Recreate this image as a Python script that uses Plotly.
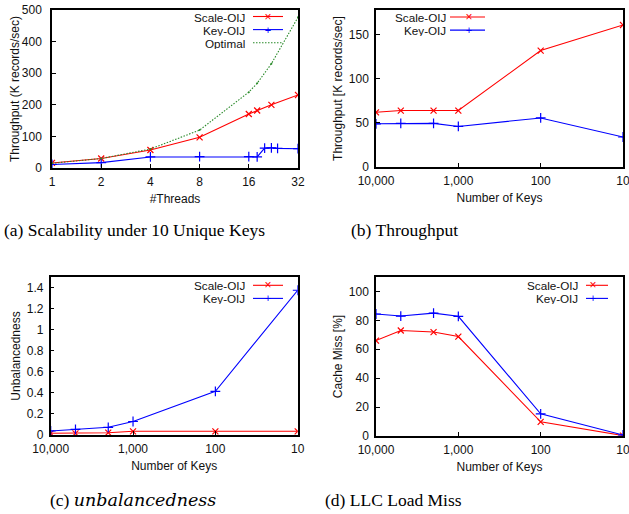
import math
import plotly.graph_objects as go

# ---------------- data ----------------
threads_scale = [1, 2, 4, 8, 16, 18, 22, 32]
scale_thr_a = [16, 30, 57, 97, 171, 182, 200, 231]
threads_key = [1, 2, 4, 8, 16, 18, 20, 22, 24, 32]
key_thr_a = [11, 17, 35, 36, 36, 35, 63, 64, 62, 61]
threads_opt = [1, 2, 4, 8, 16, 18, 22, 32]
optimal_a = [15, 30, 60, 120, 240, 268, 330, 477]

keys = [10000, 5000, 2000, 1000, 100, 10]
scale_thr_b = [62, 64, 64, 64, 132, 161]
key_thr_b = [49, 49.5, 49.5, 46, 55.6, 34]
scale_unb = [0.016, 0.016, 0.022, 0.035, 0.035, 0.035]
key_unb = [0.038, 0.054, 0.073, 0.128, 0.415, 1.374]
scale_miss = [66, 73, 71.9, 68.8, 9.8, 0.3]
key_miss = [84.4, 83, 85, 82.8, 15.3, 0.7]

thread_ticks = [1, 2, 4, 8, 16, 32]
key_ticks = [10000, 1000, 100, 10]
key_tick_text = ["10,000", "1,000", "100", "10"]

captions = ["(a) Scalability under 10 Unique Keys", "(b) Throughput",
            "(c) <span style=\"font-family:'DejaVu Serif'\"><i>unbalancedness</i></span>",
            "(d) LLC Load Miss"]

RED = "#ff0000"
BLUE = "#0000ff"
GREEN = "#2a8a2a"
W, H = 629, 514
SANS = "Liberation Sans, Arial, sans-serif"
SERIF = "Liberation Serif, Times New Roman, serif"


def px(x):
    return x / W


def py(y):
    return 1 - y / H


fig = go.Figure()


def scale_trace(x, y, xa, ya):
    return go.Scatter(x=x, y=y, xaxis=xa, yaxis=ya, mode="lines+markers", name="Scale-OIJ",
                      line=dict(color=RED, width=1.1),
                      marker=dict(symbol="x-thin-open", size=6, color=RED, line=dict(color=RED, width=1.2)),
                      showlegend=False)


def key_trace(x, y, xa, ya):
    return go.Scatter(x=x, y=y, xaxis=xa, yaxis=ya, mode="lines+markers", name="Key-OIJ",
                      line=dict(color=BLUE, width=1.1),
                      marker=dict(symbol="cross-thin-open", size=7, color=BLUE, line=dict(color=BLUE, width=1.2)),
                      showlegend=False)


# (a)
fig.add_trace(scale_trace(threads_scale, scale_thr_a, "x", "y"))
fig.add_trace(key_trace(threads_key, key_thr_a, "x", "y"))
fig.add_trace(go.Scatter(x=threads_opt, y=optimal_a, xaxis="x", yaxis="y", mode="lines+markers",
                         name="Optimal", line=dict(color=GREEN, width=1.1, dash="1.5px,1.5px"),
                         marker=dict(symbol="circle", size=2, color=GREEN), showlegend=False))
# (b)
fig.add_trace(scale_trace(keys, scale_thr_b, "x2", "y2"))
fig.add_trace(key_trace(keys, key_thr_b, "x2", "y2"))
# (c)
fig.add_trace(scale_trace(keys, scale_unb, "x3", "y3"))
fig.add_trace(key_trace(keys, key_unb, "x3", "y3"))
# (d)
fig.add_trace(scale_trace(keys, scale_miss, "x4", "y4"))
fig.add_trace(key_trace(keys, key_miss, "x4", "y4"))

tickfont = dict(family=SANS, size=12, color="#111")
titlefont = dict(family=SANS, size=12, color="#111")


def xax(domain, anchor, title, **kw):
    d = dict(domain=domain, anchor=anchor, type="log", showgrid=False, zeroline=False,
             showline=True, linecolor="black", linewidth=1.5, mirror=True, automargin=False,
             ticks="inside", ticklen=4, tickcolor="black", tickfont=tickfont,
             ticklabeloverflow="allow",
             title=dict(text=title, font=titlefont, standoff=6), ticklabelstandoff=2)
    d.update(kw)
    return d


def yax(domain, anchor, title, rng, dtick, lstand, tstand):
    return dict(domain=domain, anchor=anchor, range=rng, dtick=dtick, tick0=0, showgrid=False,
                zeroline=False, showline=True, linecolor="black", linewidth=1.5, mirror=True,
                automargin=False, ticks="inside", ticklen=4, tickcolor="black", tickfont=tickfont,
                title=dict(text=title, font=titlefont, standoff=tstand), ticklabelstandoff=lstand)


xa_dom_l = [px(52), px(298)]
xa_dom_r = [px(376), px(623)]

fig.update_layout(
    width=W, height=H, margin=dict(l=0, r=0, t=0, b=0, autoexpand=False),
    paper_bgcolor="white", plot_bgcolor="white", showlegend=False,
    xaxis=xax(xa_dom_l, "y", "#Threads", range=[0, math.log10(32)], tickvals=thread_ticks,
              ticktext=[str(t) for t in thread_ticks]),
    yaxis=yax([py(168), py(10)], "x", "Throughput (K records/sec)", [0, 500], 100, 6, 0),
    xaxis2=xax(xa_dom_r, "y2", "Number of Keys", range=[4, 1], tickvals=key_ticks, ticktext=key_tick_text),
    yaxis2=yax([py(167), py(10)], "x2", "Throughput [K records/sec]", [0, 178], 50, 3, 4),
    xaxis3=xax([px(50.7), px(297.7)], "y3", "Number of Keys", range=[4, 1], tickvals=key_ticks,
               ticktext=key_tick_text),
    yaxis3=yax([py(435), py(277)], "x3", "Unbalancedness", [0, 1.5], 0.2, 3, 4),
    xaxis4=xax(xa_dom_r, "y4", "Number of Keys", range=[4, 1], tickvals=key_ticks, ticktext=key_tick_text),
    yaxis4=yax([py(436), py(277)], "x4", "Cache Miss [%]", [0, 110], 20, 3, 4),
)

# custom gnuplot-style keys (text left, sample right)
legend_specs = [
    # text right edge, line x0, x1, marker x, rows[(y, name, color, glyph, dash)]
    (246, 253, 283, 268, [(16.5, "Scale-OIJ", RED, "×", "solid"), (29.6, "Key-OIJ", BLUE, "+", "solid"),
                          (42.7, "Optimal", GREEN, "", "1.5px,1.5px")]),
    (446.7, 450, 485, 469, [(17.0, "Scale-OIJ", RED, "×", "solid"), (30.1, "Key-OIJ", BLUE, "+", "solid")]),
    (245.7, 253, 283, 268, [(285.3, "Scale-OIJ", RED, "×", "solid"), (298.4, "Key-OIJ", BLUE, "+", "solid")]),
    (579, 586, 608, 593, [(285.3, "Scale-OIJ", RED, "×", "solid"), (298.4, "Key-OIJ", BLUE, "+", "solid")]),
]
for tx, lx0, lx1, mx, rows in legend_specs:
    for yy, name, col, glyph, dash in rows:
        fig.add_annotation(x=px(tx), y=py(yy), xref="paper", yref="paper", text=name, showarrow=False,
                           xanchor="right", yanchor="middle", height=12, borderpad=0,
                           font=dict(family=SANS, size=11.7, color="#111"))
        fig.add_shape(type="line", xref="paper", yref="paper", x0=px(lx0), x1=px(lx1), y0=py(yy), y1=py(yy),
                      line=dict(color=col, width=1.1, dash=dash))
        if glyph:
            fig.add_annotation(x=px(mx), y=py(yy), xref="paper", yref="paper", text=glyph, showarrow=False,
                               xanchor="center", yanchor="middle", height=10, width=8, borderpad=0,
                               font=dict(family=SANS, size=12 if glyph == "×" else 11, color=col))

cap_pos = [(134.5, 230), (404, 230), (133, 500), (393, 500)]
for (cx, cy), txt in zip(cap_pos, captions):
    fig.add_annotation(x=px(cx), y=py(cy), xref="paper", yref="paper", text=txt, showarrow=False,
                       xanchor="center", yanchor="middle", font=dict(family=SERIF, size=17.5, color="black"))

fig.write_html("out.html", config={"displayModeBar": False},
               post_script="document.body.style.margin='0';document.body.style.overflow='hidden';")
